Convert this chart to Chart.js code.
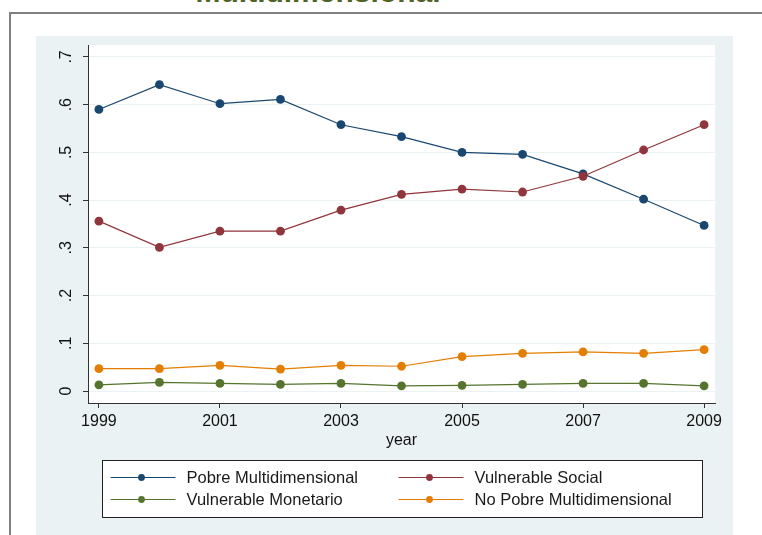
<!DOCTYPE html>
<html>
<head>
<meta charset="utf-8">
<script src="https://cdn.jsdelivr.net/npm/chart.js"></script>
<style>
    html, body { margin: 0; padding: 0; background: #fff; overflow: hidden; }
    body { width: 762px; height: 535px; position: relative; font-family: "Liberation Sans", Arial, sans-serif; }
    #frame { position: absolute; left: 9px; top: 12px; width: 800px; height: 600px;
             border-left: 2px solid #7f7f7f; border-top: 2px solid #7f7f7f; }
    #title { position: absolute; left: 0; width: 636px; top: -23px; text-align: center;
             font: bold 30px/30px "Liberation Sans", Arial, sans-serif; color: #4f6228; }
    #panel { position: absolute; left: 36px; top: 36px; width: 697px; height: 499px; background: #eaf2f3; }
    #myChart { display: block; }
</style>
</head>
<body>
<div id="frame"></div>
<div id="title">Multidimensional</div>
<div id="panel"><canvas id="myChart" width="697" height="499"></canvas></div>

<script>
// =============================================
// data
// =============================================

const years = [1999, 2000, 2001, 2002, 2003, 2004, 2005, 2006, 2007, 2008, 2009];

const pobreMulti = [0.590, 0.642, 0.602, 0.611, 0.558, 0.533, 0.500, 0.496, 0.455, 0.402, 0.347];
const vulnSocial = [0.356, 0.301, 0.335, 0.335, 0.379, 0.412, 0.423, 0.417, 0.450, 0.505, 0.558];
const vulnMonetario = [0.013, 0.018, 0.016, 0.014, 0.016, 0.011, 0.012, 0.014, 0.016, 0.016, 0.011];
const noPobreMulti = [0.047, 0.047, 0.054, 0.046, 0.054, 0.052, 0.072, 0.079, 0.082, 0.079, 0.087];

const seriesNames = ["Pobre Multidimensional", "Vulnerable Social", "Vulnerable Monetario", "No Pobre Multidimensional"];
const seriesColors = ["#1a476f", "#90353b", "#55752f", "#e37e00"];

const xTickYears = [1999, 2001, 2003, 2005, 2007, 2009];
const yTickValues = [0, 0.1, 0.2, 0.3, 0.4, 0.5, 0.6, 0.7];
const yTickLabels = ["0", ".1", ".2", ".3", ".4", ".5", ".6", ".7"];

const FONT = "Liberation Sans";

function toPoints(values) {
    return years.map((year, i) => ({ x: year, y: values[i] }));
}

const allSeries = [pobreMulti, vulnSocial, vulnMonetario, noPobreMulti];

const datasets = allSeries.map((values, i) => ({
    label: seriesNames[i],
    data: toPoints(values),
    borderColor: seriesColors[i],
    backgroundColor: seriesColors[i],
    pointBackgroundColor: seriesColors[i],
    pointBorderColor: seriesColors[i],
    borderWidth: 1.2,
    pointRadius: 4.4,
    pointBorderWidth: 0,
    tension: 0,
    order: allSeries.length - i, // later series on top, like stata
}));

// white plot region
const plotBackground = {
    id: "plotBackground",
    beforeDraw(chart) {
        const { ctx, chartArea } = chart;
        ctx.save();
        ctx.fillStyle = "#ffffff";
        ctx.fillRect(chartArea.left, chartArea.top, chartArea.right - chartArea.left, chartArea.bottom - chartArea.top);
        ctx.restore();
    },
};

// vertical y tick labels
const yLabels = {
    id: "yLabels",
    afterDraw(chart) {
        const { ctx, chartArea } = chart;
        const yScale = chart.scales.y;
        ctx.save();
        ctx.fillStyle = "#111";
        ctx.font = `16px "${FONT}"`;
        ctx.textAlign = "center";
        ctx.textBaseline = "alphabetic";
        yTickValues.forEach((v, i) => {
            ctx.save();
            ctx.translate(chartArea.left - 17, yScale.getPixelForValue(v));
            ctx.rotate(-Math.PI / 2);
            ctx.fillText(yTickLabels[i], 0, 0);
            ctx.restore();
        });
        ctx.restore();
    },
};

// boxed legend, two columns
const legendBox = {
    id: "legendBox",
    afterDraw(chart) {
        const { ctx, chartArea } = chart;
        const cx = (chartArea.left + chartArea.right) / 2;
        const w = 600, h = 57;
        const x0 = Math.round(cx - w / 2) + 0.5;
        const y0 = Math.round(chartArea.bottom + 57) + 0.5;

        ctx.save();
        ctx.fillStyle = "#fff";
        ctx.fillRect(x0, y0, w, h);
        ctx.strokeStyle = "#222";
        ctx.lineWidth = 1;
        ctx.strokeRect(x0, y0, w, h);

        ctx.font = `16.5px "${FONT}"`;
        ctx.textBaseline = "middle";
        ctx.textAlign = "left";

        chart.data.datasets.forEach((ds, i) => {
            const col = i % 2, row = Math.floor(i / 2);
            const lx = x0 + 8 + col * 288;
            const ly = y0 + 17 + row * 22;
            ctx.strokeStyle = ds.borderColor;
            ctx.lineWidth = 1;
            ctx.beginPath();
            ctx.moveTo(lx, ly);
            ctx.lineTo(lx + 65, ly);
            ctx.stroke();
            ctx.fillStyle = ds.borderColor;
            ctx.beginPath();
            ctx.arc(lx + 31, ly, 3.4, 0, Math.PI * 2);
            ctx.fill();
            ctx.fillStyle = "#1a1a1a";
            ctx.fillText(ds.label, lx + 76, ly + 1);
        });
        ctx.restore();
    },
};

const config = {
    type: "line",
    data: { datasets },
    options: {
        responsive: false,
        animation: false,
        devicePixelRatio: 1,
        layout: { padding: { left: 0, top: 9, right: 18, bottom: 85 } },
        plugins: {
            legend: { display: false },
            tooltip: { enabled: false },
        },
        scales: {
            x: {
                type: "linear",
                min: 1998.82,
                max: 2009.18,
                afterBuildTicks: (scale) => {
                    scale.ticks = xTickYears.map((v) => ({ value: v }));
                },
                afterFit: (scale) => {
                    scale.height = 47;
                },
                ticks: {
                    autoSkip: false,
                    maxRotation: 0,
                    padding: 4,
                    color: "#111",
                    font: { family: FONT, size: 16 },
                    callback: (v) => String(v),
                },
                grid: { drawOnChartArea: false, tickLength: 5, tickColor: "#333" },
                border: { color: "#333", width: 1 },
                title: {
                    display: true,
                    text: "year",
                    color: "#111",
                    font: { family: FONT, size: 16 },
                    padding: 0,
                },
            },
            y: {
                type: "linear",
                min: -0.025,
                max: 0.725,
                afterBuildTicks: (scale) => {
                    scale.ticks = yTickValues.map((v) => ({ value: v }));
                },
                afterFit: (scale) => {
                    scale.width = 52;
                },
                ticks: { display: false },
                grid: { color: "#eaf2f3", lineWidth: 1, tickLength: 5, tickColor: "#333" },
                border: { color: "#333", width: 1 },
            },
        },
    },
    plugins: [plotBackground, yLabels, legendBox],
};

new Chart(document.getElementById("myChart"), config);
</script>
</body>
</html>
